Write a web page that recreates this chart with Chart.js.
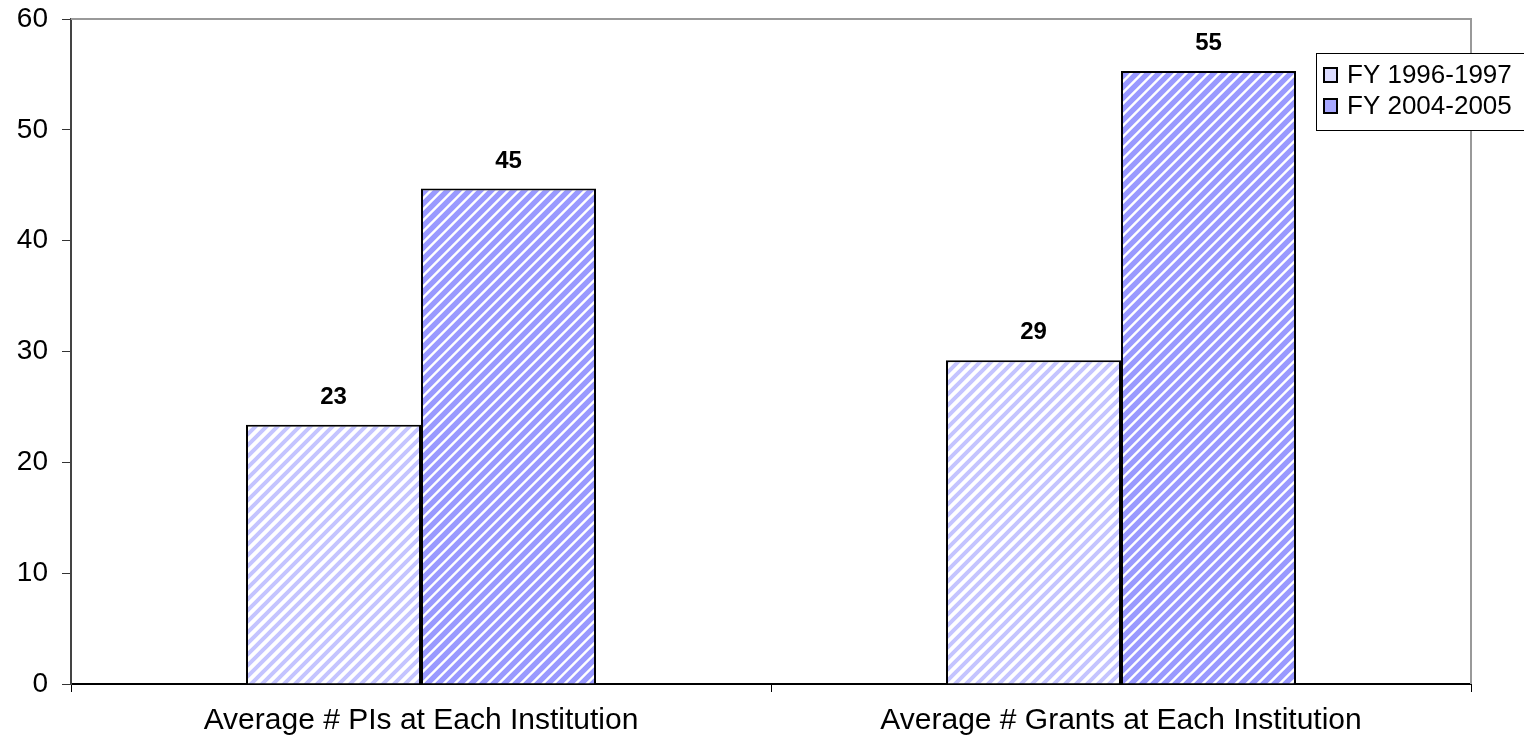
<!DOCTYPE html>
<html>
<head>
<meta charset="utf-8">
<script src="https://cdn.jsdelivr.net/npm/chart.js@4/dist/chart.umd.min.js"></script>
<style>
  body { margin: 0; background: #fff; }
  canvas { display: block; }
</style>
</head>
<body>
<canvas id="myChart" width="1524" height="741"></canvas>
<script>
const categories = ['Average # PIs at Each Institution', 'Average # Grants at Each Institution'];
const seriesNames = ['FY 1996-1997', 'FY 2004-2005'];
const fy1996 = [23.4, 29.2];
const fy2004 = [44.7, 55.3];
const yTicks = [0, 10, 20, 30, 40, 50, 60];

const ctx = document.getElementById('myChart');

function stripes(bg, fg, w)
{
    const n = 11;
    const c = document.createElement('canvas');
    c.width = n; c.height = n;
    const g = c.getContext('2d');
    g.fillStyle = bg;
    g.fillRect(0, 0, n, n);
    g.strokeStyle = fg;
    g.lineWidth = w;
    g.beginPath();
    g.moveTo(-n, n); g.lineTo(n, -n);
    g.moveTo(0, 2 * n); g.lineTo(2 * n, 0);
    g.moveTo(-n, 2 * n); g.lineTo(2 * n, -n);
    g.stroke();
    return ctx.getContext('2d').createPattern(c, 'repeat');
}

const lightFill = stripes('#ffffff', '#c4c4ff', 4);
const darkFill = stripes('#ffffff', '#9999ff', 5.4);

const font = "'Liberation Sans', Arial, sans-serif";

// value labels above bars, frame lines and the legend box
const extras = {
    id: 'extras',
    afterDraw(chart) {
        const c = chart.ctx;
        const a = chart.chartArea;
        c.save();
        c.strokeStyle = '#999';
        c.lineWidth = 2;
        c.beginPath();
        c.moveTo(a.left, a.top);
        c.lineTo(a.right, a.top);
        c.lineTo(a.right, a.bottom);
        c.stroke();

        c.fillStyle = '#000';
        c.font = 'bold 24px ' + font;
        c.textAlign = 'center';
        c.textBaseline = 'alphabetic';
        chart.data.datasets.forEach((ds, i) => {
            chart.getDatasetMeta(i).data.forEach((bar, j) => {
                c.fillText(Math.round(ds.data[j]), bar.x, bar.y - 21);
            });
        });

        // legend
        const lx = 1316, ly = 53;
        c.fillStyle = '#fff';
        c.fillRect(lx, ly, 220, 77);
        c.strokeStyle = '#000';
        c.lineWidth = 1;
        c.strokeRect(lx + 0.5, ly + 0.5, 220, 77);
        c.font = '26px ' + font;
        c.textAlign = 'left';
        c.textBaseline = 'middle';
        chart.data.datasets.forEach((ds, i) => {
            const cy = ly + 22 + i * 31;
            c.fillStyle = ds.legendColor;
            c.fillRect(lx + 8, cy - 7, 13, 14);
            c.lineWidth = 2;
            c.strokeStyle = '#000';
            c.strokeRect(lx + 8, cy - 7, 13, 14);
            c.fillStyle = '#000';
            c.fillText(ds.label, lx + 31, cy + 1);
        });
        c.restore();
    }
};

chart = new Chart(ctx, {
type: 'bar',
data: {
  labels: categories,
  datasets: [{
    label: seriesNames[0],
    data: fy1996,
    backgroundColor: lightFill,
    legendColor: '#dcdcff',
    borderColor: '#000',
    borderWidth: 2
  }, {
    label: seriesNames[1],
    data: fy2004,
    backgroundColor: darkFill,
    legendColor: '#a8a8ff',
    borderColor: '#000',
    borderWidth: 2
  }]
},
options: {
  responsive: false,
  animation: false,
  layout: { padding: { top: 19, right: 53, left: 0, bottom: 0 } },
  datasets: { bar: { categoryPercentage: 0.5, barPercentage: 1 } },
  plugins: { legend: { display: false }, tooltip: { enabled: false } },
  scales: {
    x: {
      grid: { offset: true, drawOnChartArea: false, tickLength: 8, color: '#000' },
      border: { color: '#000', width: 2 },
      ticks: { color: '#000', font: { family: font, size: 30 }, padding: 11, maxRotation: 0 },
      afterFit(s) { s.height = 57; s.paddingLeft = 0; s.paddingRight = 0; }
    },
    y: {
      min: 0,
      max: 60,
      afterBuildTicks(s) { s.ticks = yTicks.map(v => ({ value: v })); },
      grid: { drawOnChartArea: false, tickLength: 9, color: '#333' },
      border: { color: '#444', width: 2 },
      ticks: { color: '#000', font: { family: font, size: 28 }, padding: 14 },
      afterFit(s) { s.width = 71; s.paddingTop = 0; s.paddingBottom = 0; }
    }
  }
},
plugins: [extras]
});
</script>
</body>
</html>
